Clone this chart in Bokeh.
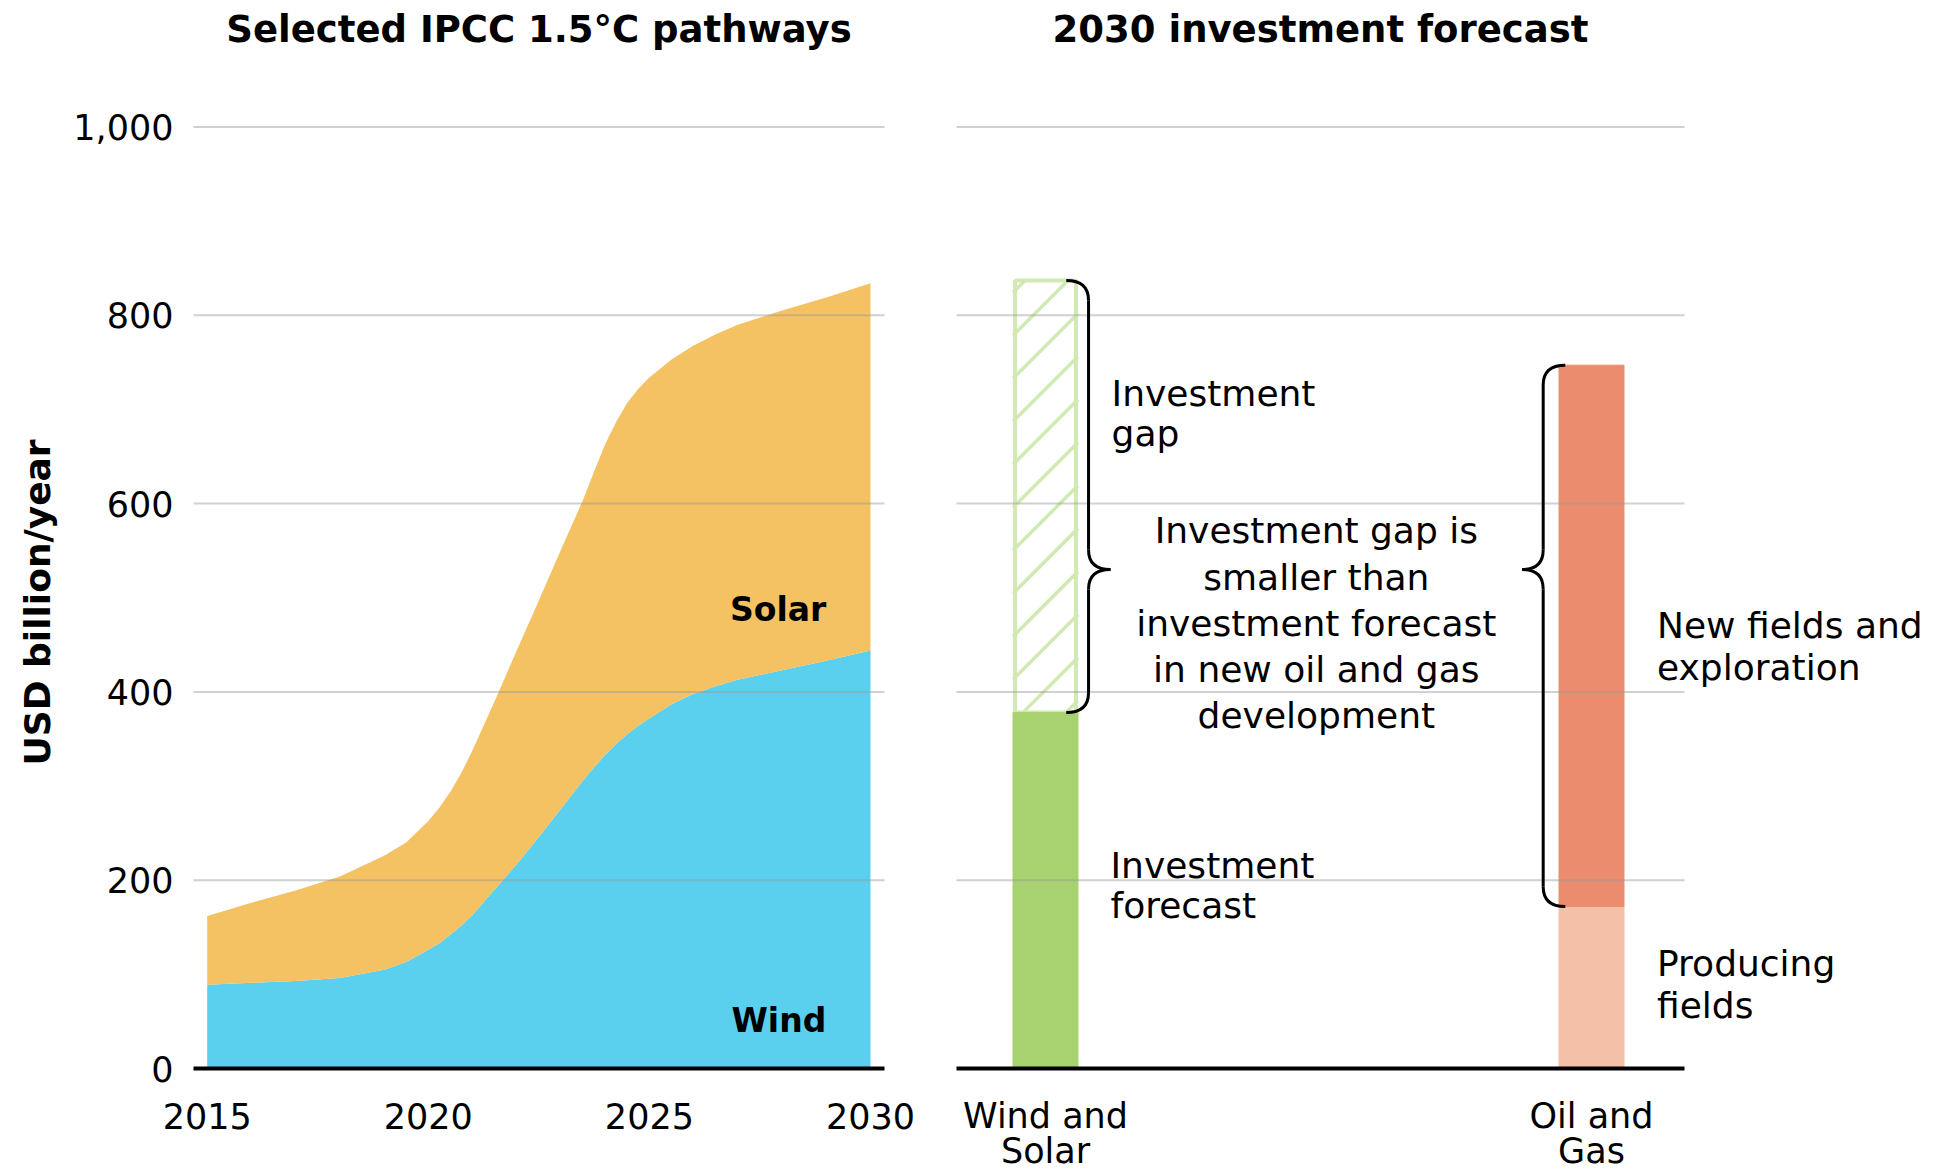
from bokeh.plotting import figure
from bokeh.models import ColumnDataSource, Range1d
from bokeh.core.properties import value
from bokeh.embed import file_html
from bokeh.resources import INLINE
import math

# ---------------- data ----------------
years = [2015, 2016, 2017, 2018, 2019, 2019.5, 2020, 2020.25, 2020.5, 2020.75, 2021, 2021.5,
         2022, 2022.5, 2023, 2023.5, 2023.75, 2024, 2024.25, 2024.5, 2024.75, 2025, 2025.5,
         2026, 2026.5, 2027, 2028, 2029, 2030]
wind = [89, 91, 93, 96, 105, 113, 126, 133, 142, 152, 163, 190,
        217, 246, 276, 306, 320, 333, 345, 355, 364, 372, 387,
        398, 406, 413, 423, 433, 444]
solar = [73, 85, 96, 108, 121, 127, 137, 144, 152, 162, 175, 200,
         227, 251, 275, 298, 314, 330, 342, 352, 358, 362, 366,
         370, 374, 377, 382, 386, 390]

bar_pos = [0, 1]
bar_labels = ["Wind and\nSolar", "Oil and\nGas"]
renew_forecast = 378
renew_gap = 459
oil_producing = 172
oil_new_fields = 575

y_ticks = [0, 200, 400, 600, 800, 1000]
x_ticks = [2015, 2020, 2025, 2030]

# ---------------- style / layout constants ----------------
FONT = "DejaVu Sans"
BLUE = "#5ACFEE"
YELLOW = "#F4C163"
GREEN = "#A8D26F"
GREEN_LIGHT = "#D1E9B3"
SALMON = "#EB8C6F"
SALMON_LIGHT = "#F5C0A8"
W, H = 1932, 1172
PX_PER_Y = 0.9415                   # screen px per data unit (vertical)
PX_PER_BAR_X = 546                  # screen px per unit on the bar axis
Y_START, Y_END = -110.46, 1134.36
L_X0, L_X1 = 2014.69, 2030.317      # left panel extent (years)
R_X0, R_X1 = -0.163, 1.1703         # right panel extent (bar axis)
BW = 0.119
TITLE_Y = 1104
TICK_LBL_Y1, TICK_LBL_Y2 = -50, -88
GRID_COLOR = "#999999"

p = figure(width=W, height=H, x_range=Range1d(2010.3256, 2054.0166),
           y_range=Range1d(Y_START, Y_END),
           extra_x_ranges={"bars": Range1d(-1.9139, 1.6245)},
           x_axis_location=None, y_axis_location=None,
           output_backend="svg", toolbar_location=None, min_border=0)
p.min_border_left = p.min_border_right = p.min_border_top = p.min_border_bottom = 0
p.outline_line_color = None
p.background_fill_color = "white"
p.border_fill_color = "white"
p.xgrid.visible = False
p.ygrid.visible = False


def txt(x, y, texts, size="36px", align="center", bold=False, rng="default", angle=0.0):
    kw = {} if rng == "default" else {"x_range_name": rng}
    p.text(x=x, y=y, text=texts, text_font=value(FONT), text_font_size=size,
           text_font_style="bold" if bold else "normal", text_align=align,
           text_baseline="middle", text_color="black", angle=angle, **kw)


# ---------------- left: pathways ----------------
src = ColumnDataSource(dict(years=years, wind=wind, solar=solar))
p.varea_stack(["wind", "solar"], x="years", color=[BLUE, YELLOW], source=src)

grid_ticks = [t for t in y_ticks if t > 0]
p.segment(x0=[L_X0] * len(grid_ticks), y0=grid_ticks, x1=[L_X1] * len(grid_ticks),
          y1=grid_ticks, line_color=GRID_COLOR, line_alpha=0.45, line_width=2)
p.segment(x0=[L_X0], y0=[y_ticks[0]], x1=[L_X1], y1=[y_ticks[0]],
          line_color="black", line_width=4)

txt([2014.238] * len(y_ticks), y_ticks, ["{:,}".format(t) for t in y_ticks],
    size="35px", align="right")
txt(x_ticks, [TICK_LBL_Y1] * len(x_ticks), [str(t) for t in x_ticks], size="35px")
txt([2011.16], [495], ["USD billion/year"], bold=True, angle=math.pi / 2)
txt([2022.503], [TITLE_Y], ["Selected IPCC 1.5°C pathways"], size="37px", bold=True)
txt([2029.0, 2029.0], [487, 51], ["Solar", "Wind"], size="33px", align="right", bold=True)

# ---------------- right: 2030 forecast ----------------
xr, xo = bar_pos

# investment gap: outlined box with 45-degree hatching
gap_bot, gap_top = renew_forecast, renew_forecast + renew_gap
p.vbar(x=[xr], bottom=[gap_bot], top=[gap_top], width=BW - 0.0075,
       fill_color=None, line_color=GREEN_LIGHT, line_width=4, x_range_name="bars")
k = PX_PER_BAR_X / PX_PER_Y          # data-y per data-x for a 45 degree line
xl = xr - BW / 2
step = 43 / PX_PER_Y
hx0, hy0, hx1, hy1 = [], [], [], []
c = gap_top - 12 / PX_PER_Y
while c > gap_bot - BW * k:
    x0, y0, x1, y1 = xl, c, xl + BW, c + BW * k
    if y0 < gap_bot:
        x0 += (gap_bot - y0) / k
        y0 = gap_bot
    if y1 > gap_top:
        x1 -= (y1 - gap_top) / k
        y1 = gap_top
    if x1 > x0:
        hx0.append(x0); hy0.append(y0); hx1.append(x1); hy1.append(y1)
    c -= step
p.segment(x0=hx0, y0=hy0, x1=hx1, y1=hy1, line_color=GREEN_LIGHT, line_width=3.5,
          x_range_name="bars")

p.vbar(x=[xr], bottom=[0], top=[renew_forecast], width=BW, color=GREEN, x_range_name="bars")
p.vbar(x=[xo], bottom=[0], top=[oil_producing], width=BW, color=SALMON_LIGHT,
       x_range_name="bars")
p.vbar(x=[xo], bottom=[oil_producing], top=[oil_producing + oil_new_fields],
       width=BW, color=SALMON, x_range_name="bars")

p.segment(x0=[R_X0] * len(grid_ticks), y0=grid_ticks, x1=[R_X1] * len(grid_ticks),
          y1=grid_ticks, line_color=GRID_COLOR, line_alpha=0.45, line_width=2,
          x_range_name="bars")
p.segment(x0=[R_X0], y0=[y_ticks[0]], x1=[R_X1], y1=[y_ticks[0]],
          line_color="black", line_width=4, x_range_name="bars")

for pos, lab_txt in zip(bar_pos, bar_labels):
    lines = lab_txt.split("\n")
    txt([pos] * len(lines), [TICK_LBL_Y1, TICK_LBL_Y2][:len(lines)], lines,
        size="35px", rng="bars")

txt([0.5037], [TITLE_Y], ["2030 investment forecast"], size="37px", bold=True, rng="bars")


def brace(xh, xv, xt, y_top, y_bot, y_mid, r=21):
    p.quadratic(x0=[xh, xv, xt, xv], y0=[y_top, y_mid + r, y_mid, y_bot + r],
                x1=[xv, xt, xv, xh], y1=[y_top - r, y_mid, y_mid - r, y_bot],
                cx=[xv, xv, xv, xv], cy=[y_top, y_mid, y_mid, y_bot],
                line_color="black", line_width=3, x_range_name="bars")
    p.segment(x0=[xv, xv], y0=[y_top - r, y_mid - r], x1=[xv, xv], y1=[y_mid + r, y_bot + r],
              line_color="black", line_width=3, x_range_name="bars")


TIP_Y = 530
brace(xr + 0.038, xr + 0.0788, xr + 0.119, gap_top, gap_bot, TIP_Y)
brace(xo - 0.048, xo - 0.0885, xo - 0.127, oil_producing + oil_new_fields, oil_producing, TIP_Y)

txt([xr + 0.121] * 2, [717, 674], ["Investment", "gap"], align="left", rng="bars")
txt([xr + 0.119] * 2, [216, 173], ["Investment", "forecast"], align="left", rng="bars")
center_lines = ["Investment gap is", "smaller than", "investment forecast",
                "in new oil and gas", "development"]
txt([0.496] * len(center_lines), [571 - i * 49.1 for i in range(len(center_lines))],
    center_lines, rng="bars")
txt([xo + 0.12] * 2, [470, 426], ["New fields and", "exploration"], align="left", rng="bars")
txt([xo + 0.12] * 2, [111, 67], ["Producing", "fields"], align="left", rng="bars")

open("out.html", "w").write(file_html(p, INLINE))
